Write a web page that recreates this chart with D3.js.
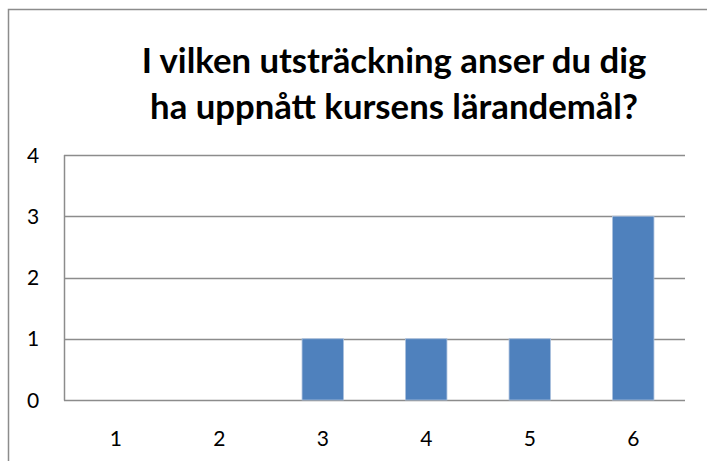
<!DOCTYPE html>
<html><head><meta charset="utf-8">
<script src="https://cdn.jsdelivr.net/npm/d3@7/dist/d3.min.js"></script>
<style>body{margin:0;background:#fff}svg{display:block}</style>
</head><body>
<script>
const categories = ["1","2","3","4","5","6"];
const values = [0,0,1,1,1,3];
const yTicks = [0,1,2,3,4];
const titleLines = ["I vilken utsträckning anser du dig","ha uppnått kursens lärandemål?"];

const W = 707, H = 461;
const svg = d3.select("body").append("svg").attr("width", W).attr("height", H);
const font = "Lato, 'Open Sans', sans-serif";

// outer chart border
svg.append("path").attr("d", `M8.5,${H+2} V9.5 H${W+2}`)
  .attr("fill","none").attr("stroke","#8c8c8c").attr("stroke-width",1.5);

const x = d3.scaleBand().domain(categories).range([64, 685]).paddingInner(0.6).paddingOuter(0.3);
const y = d3.scaleLinear().domain([0,4]).range([400, 155]);

// gridlines
svg.append("g").selectAll("line").data(yTicks).join("line")
  .attr("x1", 64).attr("x2", 685)
  .attr("y1", d => Math.round(y(d))+0.5).attr("y2", d => Math.round(y(d))+0.5)
  .attr("stroke","#8c8c8c").attr("stroke-width",1.5);
// y axis line
svg.append("line").attr("x1",64.5).attr("x2",64.5).attr("y1",y(4)).attr("y2",y(0)+0.5)
  .attr("stroke","#8c8c8c").attr("stroke-width",1.5);

// bars
const barData = categories.map((c,i) => ({c, v: values[i]}));
svg.append("g").selectAll("rect").data(barData).join("rect")
  .attr("x", d => x(d.c)).attr("width", x.bandwidth())
  .attr("y", d => y(d.v)).attr("height", d => y(0)-y(d.v))
  .attr("fill","#4f81bd").attr("stroke", d => d.v>0 ? "#a9bfdc" : "none").attr("stroke-width",0.8);

// y labels
svg.append("g").selectAll("text").data(yTicks).join("text")
  .attr("x", 33).attr("y", d => y(d)+7.5)
  .attr("text-anchor","middle").attr("font-family",font).attr("font-size",21).attr("fill","#000")
  .text(d => d);

// x labels
svg.append("g").selectAll("text").data(categories).join("text")
  .attr("x", d => x(d)+x.bandwidth()/2).attr("y", 446)
  .attr("text-anchor","middle").attr("font-family",font).attr("font-size",21).attr("fill","#000")
  .text(d => d);

// title
const baselines = [73, 119];
const els = titleLines.map((t,i) => svg.append("text").attr("x", 394).attr("y", baselines[i])
    .attr("text-anchor","middle").attr("font-family",font).attr("font-weight","bold")
    .attr("font-size",27).attr("fill","#000").text(t));
const w0 = els[0].node().getComputedTextLength();
const fs = 27 * 505 / w0;
els.forEach(e => e.attr("font-size", fs));
</script>
</body></html>
